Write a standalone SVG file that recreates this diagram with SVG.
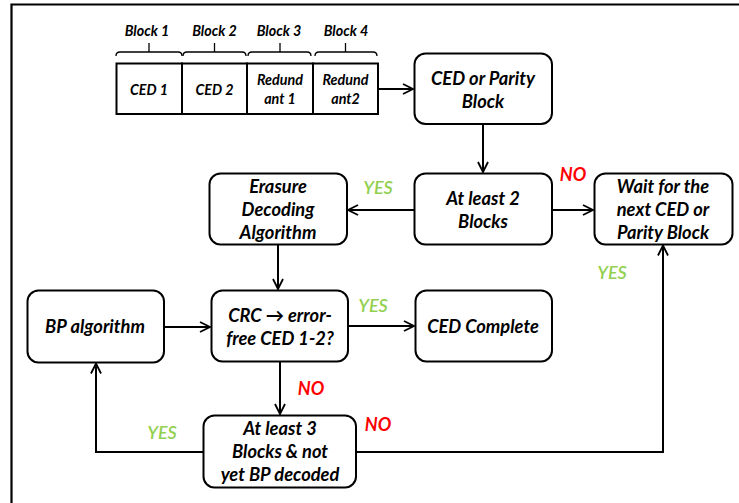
<svg xmlns="http://www.w3.org/2000/svg" width="739" height="503" viewBox="0 0 739 503">
<defs>
<marker id="ah" markerWidth="12" markerHeight="12" viewBox="0 0 12 12" refX="11" refY="6" orient="auto" markerUnits="userSpaceOnUse">
<path d="M1,1 L11,6 L1,11" fill="none" stroke="#000" stroke-width="1.8"/>
</marker>
</defs>
<style>
.box{fill:#fff;stroke:#000;stroke-width:2}
.cell{fill:#fff;stroke:#000;stroke-width:2}
.t{font-family:Lato,"Open Sans","Liberation Sans",sans-serif;font-weight:bold;font-style:italic;font-size:18.3px;fill:#000;text-anchor:middle;dominant-baseline:central}
.s{font-size:14.3px}
.c{fill:none;stroke:#000;stroke-width:2}
.br{fill:none;stroke:#000;stroke-width:1.3}
.yes{font-family:Lato,"Open Sans","Liberation Sans",sans-serif;font-weight:600;font-style:italic;font-size:18px;fill:#92D050;text-anchor:middle;dominant-baseline:central}
.no{font-family:Lato,"Open Sans","Liberation Sans",sans-serif;font-weight:bold;font-style:italic;font-size:18px;fill:#FF0000;text-anchor:middle;dominant-baseline:central}
</style>
<rect width="739" height="503" fill="#fff"/>
<path d="M11.5,503 V4.5 H739" fill="none" stroke="#000" stroke-width="2.2"/>

<g id="blocks">
<rect class="cell" x="116.5" y="63.5" width="65.5" height="50.5"/>
<rect class="cell" x="182" y="63.5" width="65" height="50.5"/>
<rect class="cell" x="247" y="63.5" width="66" height="50.5"/>
<rect class="cell" x="313" y="63.5" width="65" height="50.5"/>
<text class="t s" x="149" y="89">CED 1</text>
<text class="t s" x="214.5" y="89">CED 2</text>
<text class="t s" x="280" y="79">Redund</text>
<text class="t s" x="280" y="98">ant 1</text>
<text class="t s" x="345.5" y="79">Redund</text>
<text class="t s" x="345.5" y="98">ant2</text>
<path class="br" d="M116,56 q0,-4 4,-4 H178 q4,0 4,4 M149,52 V43"/>
<path class="br" d="M183,56 q0,-4 4,-4 H242 q4,0 4,4 M214.5,52 V43"/>
<path class="br" d="M248,56 q0,-4 4,-4 H307 q4,0 4,4 M280,52 V43"/>
<path class="br" d="M315,56 q0,-4 4,-4 H373 q4,0 4,4 M345.5,52 V43"/>
<text class="t s" x="147" y="30">Block 1</text>
<text class="t s" x="214.5" y="30">Block 2</text>
<text class="t s" x="279" y="30">Block 3</text>
<text class="t s" x="346" y="30">Block 4</text>
</g>

<g id="ced-parity">
<rect class="box" x="414.5" y="53.5" width="137.5" height="70.5" rx="11"/>
<text class="t" x="483" y="78">CED or Parity</text>
<text class="t" x="483" y="101">Block</text>
</g>
<g id="atleast2">
<rect class="box" x="414.5" y="173.5" width="137.5" height="71" rx="11"/>
<text class="t" x="483" y="198">At least 2</text>
<text class="t" x="483" y="221">Blocks</text>
</g>
<g id="erasure">
<rect class="box" x="209.5" y="173.5" width="137.5" height="71" rx="11"/>
<text class="t" x="278" y="186">Erasure</text>
<text class="t" x="278" y="209">Decoding</text>
<text class="t" x="278" y="232">Algorithm</text>
</g>
<g id="wait">
<rect class="box" x="594.5" y="173.5" width="138" height="71" rx="11"/>
<text class="t" x="663" y="186">Wait for the</text>
<text class="t" x="663" y="209">next CED or</text>
<text class="t" x="663" y="232">Parity Block</text>
</g>
<g id="crc">
<rect class="box" x="211.5" y="290.5" width="136.5" height="71" rx="11"/>
<text class="t" x="280" y="315">CRC → error-</text>
<text class="t" x="280" y="338">free CED 1-2?</text>
</g>
<g id="ced-complete">
<rect class="box" x="415.5" y="290.5" width="136.5" height="71" rx="11"/>
<text class="t" x="483" y="326">CED Complete</text>
</g>
<g id="bp">
<rect class="box" x="27.5" y="290.5" width="136.5" height="72" rx="11"/>
<text class="t" x="95" y="326">BP algorithm</text>
</g>
<g id="atleast3">
<rect class="box" x="203.5" y="415.5" width="152.5" height="72" rx="11"/>
<text class="t" x="280" y="428">At least 3</text>
<text class="t" x="280" y="451">Blocks &amp; not</text>
<text class="t" x="280" y="474">yet BP decoded</text>
</g>

<g id="connectors">
<path class="c" d="M378,89 H413" marker-end="url(#ah)"/>
<path class="c" d="M483,124 V172" marker-end="url(#ah)"/>
<path class="c" d="M414.5,210 H348" marker-end="url(#ah)"/>
<path class="c" d="M552,210 H593" marker-end="url(#ah)"/>
<path class="c" d="M278,244.5 V289" marker-end="url(#ah)"/>
<path class="c" d="M348,326 H414" marker-end="url(#ah)"/>
<path class="c" d="M280,361.5 V414" marker-end="url(#ah)"/>
<path class="c" d="M164,327 H210" marker-end="url(#ah)"/>
<path class="c" d="M356,452 H663 V245.5" marker-end="url(#ah)"/>
<path class="c" d="M203.5,452 H96 V363.5" marker-end="url(#ah)"/>
</g>

<g id="labels">
<text class="yes" x="378" y="187">YES</text>
<text class="no" x="573" y="174">NO</text>
<text class="yes" x="612" y="272">YES</text>
<text class="yes" x="373" y="305">YES</text>
<text class="no" x="311" y="388">NO</text>
<text class="no" x="378" y="424">NO</text>
<text class="yes" x="162" y="432">YES</text>
</g>
</svg>
